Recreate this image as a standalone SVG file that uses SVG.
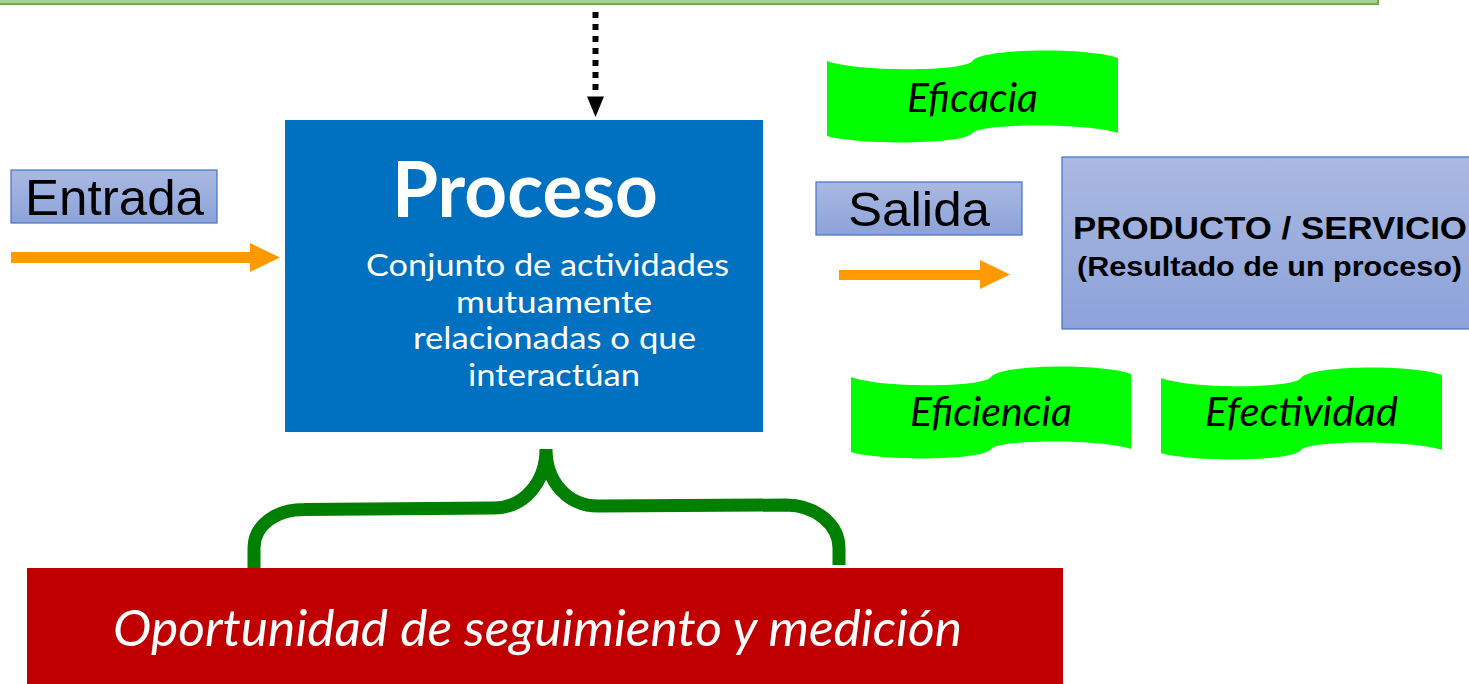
<svg xmlns="http://www.w3.org/2000/svg" width="1469" height="684" viewBox="0 0 1469 684">
  <defs>
    <linearGradient id="blueGrad" x1="0" y1="0" x2="0" y2="1">
      <stop offset="0" stop-color="#AAB9E1"/>
      <stop offset="1" stop-color="#8CA2D9"/>
    </linearGradient>
    <style>
      .bluebox { fill: url(#blueGrad); stroke: #4472C4; stroke-width: 1.2; }
      .banner { fill: #00FF00; }
      .orange { fill: #FF9900; }
      .sans { font-family: "Liberation Sans", Arial, sans-serif; fill: #000; }
      .cal { font-family: Lato, "Open Sans", sans-serif; }
      .ital { font-family: Lato, "Open Sans", sans-serif; font-style: italic; fill: #000; }
    </style>
  </defs>

  <rect width="1469" height="684" fill="#FFFFFF"/>

  <!-- top bar -->
  <g id="top-bar">
    <rect x="-2" y="-4" width="1380" height="8" fill="#A9D18E" stroke="#70AD47" stroke-width="2"/>
  </g>

  <!-- connectors -->
  <g id="connectors">
    <line x1="595.5" y1="12" x2="595.5" y2="96" stroke="#000" stroke-width="6" stroke-dasharray="6 6"/>
    <polygon points="587,96.5 604,96.5 595.5,117" fill="#000"/>
    <polygon class="orange" points="11,252 250,252 250,243 280,257.5 250,272 250,263 11,263"/>
    <polygon class="orange" points="839,270 980,270 980,260 1010,274.5 980,289 980,280 839,280"/>
    <path d="M254,568 L254,548 C254,525 276,509.5 304,509.5 L494,508 C524,508 546,482 546,449 C546,482 568,506 598,506 L786,505 C816,505 839,525 839,548 L839,565" fill="none" stroke="#008000" stroke-width="13" stroke-linejoin="bevel"/>
  </g>

  <g id="entrada">
    <rect class="bluebox" x="11" y="170" width="206" height="53"/>
    <text class="sans" x="25" y="215" font-size="50" textLength="179" lengthAdjust="spacingAndGlyphs">Entrada</text>
  </g>

  <g id="proceso">
    <rect x="285" y="120" width="478" height="312" fill="#0070C0"/>
    <text class="cal" x="392" y="217" font-size="76" font-weight="bold" fill="#FFFFFF" textLength="266" lengthAdjust="spacingAndGlyphs">Proceso</text>
    <g class="cal" font-size="31" fill="#FFFFFF">
      <text x="366" y="276" textLength="363" lengthAdjust="spacingAndGlyphs">Conjunto de actividades</text>
      <text x="456" y="312.5" textLength="196" lengthAdjust="spacingAndGlyphs">mutuamente</text>
      <text x="413" y="349" textLength="283" lengthAdjust="spacingAndGlyphs">relacionadas o que</text>
      <text x="468" y="386" textLength="172" lengthAdjust="spacingAndGlyphs">interactúan</text>
    </g>
  </g>

  <g id="salida">
    <rect class="bluebox" x="816" y="182" width="206" height="53"/>
    <text class="sans" x="848" y="226" font-size="48" textLength="142" lengthAdjust="spacingAndGlyphs">Salida</text>
  </g>

  <g id="producto">
    <rect class="bluebox" x="1062" y="157" width="420" height="172"/>
    <text class="sans" x="1073" y="239" font-size="31" font-weight="bold" textLength="394" lengthAdjust="spacingAndGlyphs">PRODUCTO / SERVICIO</text>
    <text class="sans" x="1077" y="276" font-size="27" font-weight="bold" textLength="385" lengthAdjust="spacingAndGlyphs">(Resultado de un proceso)</text>
  </g>

  <g id="eficacia">
    <path class="banner" transform="translate(827,61)" d="M0,0 C29,11 137,11 145.5,0 C154,-13 262,-14 291,-3 L291,72 C262,62 154,62 145.5,72 C137,84 29,84 0,75 Z"/>
    <text class="ital" x="907" y="112" font-size="40" textLength="131" lengthAdjust="spacingAndGlyphs">Eficacia</text>
  </g>

  <g id="eficiencia">
    <path class="banner" transform="translate(851,377)" d="M0,0 C28,11 132,11 140,0 C148,-13 252,-14 280,-3 L280,72 C252,62 148,62 140,72 C132,84 28,84 0,75 Z"/>
    <text class="ital" x="910" y="426" font-size="40" textLength="162" lengthAdjust="spacingAndGlyphs">Eficiencia</text>
  </g>

  <g id="efectividad">
    <path class="banner" transform="translate(1161,378)" d="M0,0 C28,11 132,11 140,0 C148,-13 252,-14 281,-3 L281,72 C252,62 148,62 140,72 C132,84 28,84 0,75 Z"/>
    <text class="ital" x="1205" y="426" font-size="40" textLength="193" lengthAdjust="spacingAndGlyphs">Efectividad</text>
  </g>

  <g id="oportunidad">
    <rect x="27" y="568" width="1036" height="120" fill="#C00000"/>
    <text class="ital" x="113" y="646" font-size="51" fill="#FFFFFF" style="fill:#FFFFFF" textLength="849" lengthAdjust="spacingAndGlyphs">Oportunidad de seguimiento y medición</text>
  </g>
</svg>
